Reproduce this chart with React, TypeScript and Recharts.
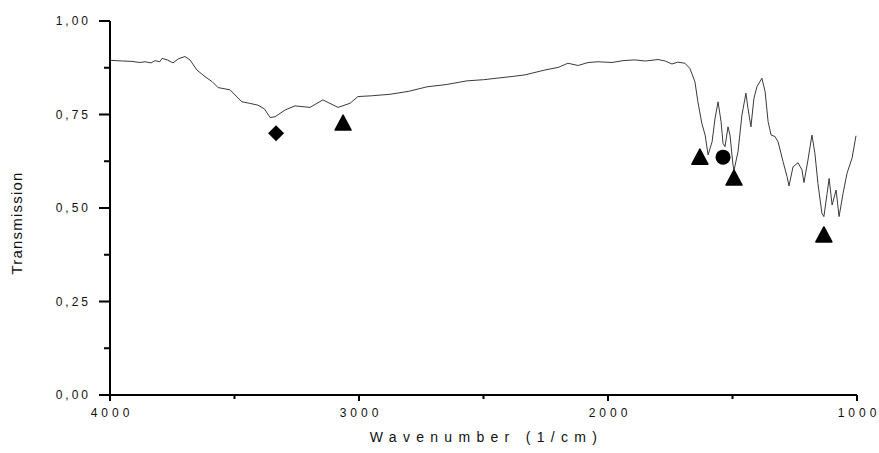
import React from 'react';
import { ComposedChart, Line, Scatter, XAxis, YAxis } from 'recharts';

// IR spectrum
const wavenumbers = [
  4000, 3950, 3912, 3880, 3859, 3835, 3819, 3800, 3791, 3770, 3747, 3725, 3699, 3679, 3651, 3618, 3590, 3566,
  3518, 3490, 3470, 3440, 3406, 3380, 3357, 3337, 3297, 3257, 3197, 3145, 3084, 3036, 3004, 2950, 2876, 2800,
  2727, 2650, 2566, 2500, 2434, 2380, 2333, 2253, 2200, 2161, 2120, 2080, 2040, 1984, 1940, 1892, 1850, 1799,
  1770, 1743, 1720, 1691, 1671, 1651, 1639, 1623, 1610, 1598, 1582, 1570, 1558, 1546, 1538, 1530, 1518, 1510,
  1498, 1494, 1478, 1462, 1446, 1438, 1426, 1414, 1402, 1382, 1369, 1357, 1345, 1329, 1317, 1297, 1281, 1273,
  1257, 1237, 1221, 1213, 1197, 1181, 1169, 1157, 1141, 1133, 1120, 1112, 1100, 1084, 1072, 1056, 1040, 1020,
  1004,
];
const transmission = [
  0.895, 0.893, 0.892, 0.889, 0.891, 0.888, 0.894, 0.891, 0.9, 0.896, 0.888, 0.899, 0.905, 0.896, 0.869, 0.851, 0.838, 0.822,
  0.816, 0.797, 0.784, 0.78, 0.775, 0.765, 0.742, 0.744, 0.762, 0.773, 0.769, 0.789, 0.769, 0.78, 0.798, 0.8, 0.804, 0.812,
  0.824, 0.83, 0.84, 0.843, 0.848, 0.852, 0.856, 0.869, 0.876, 0.887, 0.881, 0.889, 0.891, 0.889, 0.894, 0.896, 0.893, 0.897,
  0.893, 0.885, 0.89, 0.887, 0.873, 0.838, 0.784, 0.726, 0.695, 0.642, 0.677, 0.74, 0.784, 0.731, 0.673, 0.664, 0.717, 0.695,
  0.615, 0.6, 0.65, 0.749, 0.807, 0.767, 0.717, 0.793, 0.824, 0.847, 0.811, 0.731, 0.695, 0.691, 0.677, 0.624, 0.584, 0.559,
  0.61, 0.621, 0.602, 0.568, 0.628, 0.695, 0.646, 0.566, 0.486, 0.477, 0.539, 0.579, 0.508, 0.548, 0.477, 0.539, 0.593, 0.633,
  0.693,
];

// peak assignment markers
const diamondWn = [3333];
const diamondT = [0.7];
const triangleWn = [3064, 1631, 1494, 1133];
const triangleT = [0.727, 0.636, 0.58, 0.428];
const circleWn = [1538];
const circleT = [0.636];

const xTicks = [4000, 3500, 3000, 2500, 2000, 1500, 1000];
const yTicks = [0, 0.125, 0.25, 0.375, 0.5, 0.625, 0.75, 0.875, 1];

const spectrum = wavenumbers.map((wn, i) => ({ wn, t: transmission[i] }));
const diamonds = diamondWn.map((wn, i) => ({ wn, t: diamondT[i] }));
const triangles = triangleWn.map((wn, i) => ({ wn, t: triangleT[i] }));
const circles = circleWn.map((wn, i) => ({ wn, t: circleT[i] }));

const font = '"Liberation Sans", Arial, sans-serif';

const XTick = (props: any) => {
  const { x, y, payload } = props;
  const major = payload.value % 1000 === 0;
  return (
    <g>
      <line x1={x} x2={x} y1={y} y2={y + (major ? 6 : 4)} stroke="#000" strokeWidth={2} />
      {major && (
        <text x={x + 2} y={y + 22} textAnchor="middle" fontSize={12} letterSpacing={4} fill="#111" fontFamily={font}>
          {payload.value}
        </text>
      )}
    </g>
  );
};

const YTick = (props: any) => {
  const { x, y, payload } = props;
  const major = Math.abs((payload.value * 4) % 1) < 1e-6;
  return (
    <g>
      <line x1={x} x2={x - (major ? 11 : 6)} y1={y} y2={y} stroke="#000" strokeWidth={2} />
      {major && (
        <text x={x - 19} y={y + 4} textAnchor="end" fontSize={12} letterSpacing={3} fill="#111" fontFamily={font}>
          {payload.value.toFixed(2).replace('.', ',')}
        </text>
      )}
    </g>
  );
};

const Diamond = (props: any) => {
  const { cx, cy } = props;
  return <polygon points={`${cx},${cy - 8} ${cx + 8},${cy} ${cx},${cy + 8} ${cx - 8},${cy}`} fill="#000" />;
};

const Triangle = (props: any) => {
  const { cx, cy } = props;
  return (
    <polygon
      points={`${cx},${cy - 8} ${cx + 8},${cy + 7} ${cx - 8},${cy + 7}`}
      fill="#000"
      stroke="#000"
      strokeWidth={1.5}
      strokeLinejoin="round"
    />
  );
};

const Dot = (props: any) => {
  const { cx, cy } = props;
  return <circle cx={cx} cy={cy} r={7.5} fill="#000" />;
};

export default function App() {
  return (
    <div style={{ position: 'fixed', left: 0, top: 0, background: '#fff' }}>
      <ComposedChart width={879} height={453} data={spectrum} margin={{ top: 21, right: 22, bottom: 0, left: 0 }}>
        <XAxis
          dataKey="wn"
          type="number"
          domain={[1000, 4000]}
          reversed
          ticks={xTicks}
          interval={0}
          tickSize={0}
          tickMargin={0}
          tickLine={false}
          tick={<XTick />}
          axisLine={{ stroke: '#000', strokeWidth: 2 }}
          height={58}
          label={{
            content: (p: any) => {
              const vb = p.viewBox;
              return (
                <text
                  x={vb.x + vb.width / 2 + 3}
                  y={vb.y + 47}
                  textAnchor="middle"
                  fontSize={14}
                  letterSpacing={6.3}
                  fill="#111"
                  fontFamily={font}
                >
                  Wavenumber (1/cm)
                </text>
              );
            },
          }}
        />
        <YAxis
          dataKey="t"
          type="number"
          domain={[0, 1]}
          ticks={yTicks}
          interval={0}
          tickSize={0}
          tickMargin={0}
          tickLine={false}
          tick={<YTick />}
          axisLine={{ stroke: '#000', strokeWidth: 2 }}
          width={110}
          label={{
            content: (p: any) => {
              const vb = p.viewBox;
              const cx = vb.x + 22;
              const cy = vb.y + vb.height / 2 + 15;
              return (
                <text
                  x={cx}
                  y={cy}
                  transform={`rotate(-90 ${cx} ${cy})`}
                  textAnchor="middle"
                  fontSize={15}
                  letterSpacing={1.2}
                  fill="#111"
                  fontFamily={font}
                >
                  Transmission
                </text>
              );
            },
          }}
        />
        <Line
          dataKey="t"
          type="linear"
          stroke="#3a3a3a"
          strokeWidth={1}
          dot={false}
          activeDot={false}
          isAnimationActive={false}
        />
        <Scatter data={diamonds} dataKey="t" shape={<Diamond />} isAnimationActive={false} />
        <Scatter data={triangles} dataKey="t" shape={<Triangle />} isAnimationActive={false} />
        <Scatter data={circles} dataKey="t" shape={<Dot />} isAnimationActive={false} />
      </ComposedChart>
    </div>
  );
}
